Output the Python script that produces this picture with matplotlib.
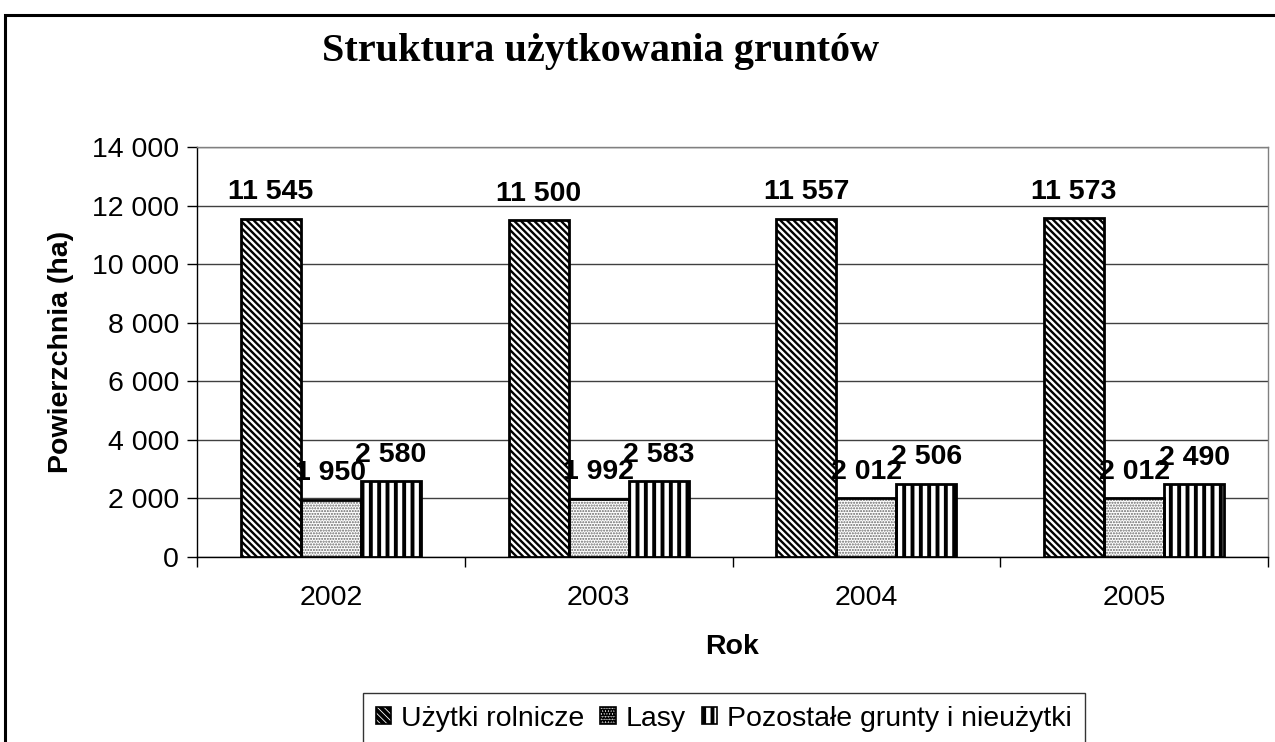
import matplotlib
matplotlib.use("Agg")
import matplotlib.pyplot as plt
import numpy as np
from matplotlib.patches import Rectangle
from matplotlib.ticker import FuncFormatter

years = ["2002", "2003", "2004", "2005"]
series_names = ["Użytki rolnicze", "Lasy", "Pozostałe grunty i nieużytki"]
uzytki = [11545, 11500, 11557, 11573]
lasy = [1950, 1992, 2012, 2012]
pozostale = [2580, 2583, 2506, 2490]
yticks = [0, 2000, 4000, 6000, 8000, 10000, 12000, 14000]

W, H = 1275, 742
fig = plt.figure(figsize=(W / 100, H / 100), dpi=100)
ax = fig.add_axes([197 / W, 1 - 557 / H, (1268 - 197) / W, (557 - 147) / H])

def fmt(v):
    return f"{int(v):,}".replace(",", " ")

FS = 20.5
x = np.arange(len(years))
bw = 0.224
offsets = [-bw, 0, bw]
data = [uzytki, lasy, pozostale]
hatches = ["\\\\\\\\\\", "......", "||"]
hatch_colors = ["black", "#666666", "black"]
hatch_lw = [1.7, 1.0, 2.8]

handles = []
for d, off, h, hc, hlw, name in zip(data, offsets, hatches, hatch_colors, hatch_lw, series_names):
    plt.rcParams["hatch.linewidth"] = hlw
    ax.bar(x + off, d, bw, color="white", edgecolor=hc, hatch=h, linewidth=0, zorder=3)
    ax.bar(x + off, d, bw, facecolor="none", edgecolor="black", linewidth=2.0, zorder=4)
    handle = Rectangle((0, 0), 1, 1, facecolor="white", edgecolor="black", hatch=h, linewidth=1.2)
    handles.append(handle)
    for xi, v in zip(x + off, d):
        ax.annotate(fmt(v), (xi, v), xytext=(0, 14), textcoords="offset points",
                    ha="center", va="baseline", fontsize=FS, fontweight="bold",
                    family="Liberation Sans", zorder=5)

ax.set_ylim(0, 14000)
ax.set_xlim(-0.5, len(years) - 0.5)
ax.set_yticks(yticks)
ax.yaxis.set_major_formatter(FuncFormatter(lambda v, p: fmt(v)))
ax.grid(axis="y", color="#404040", linewidth=1.0, zorder=0)
ax.set_xticks(x)
ax.set_xticklabels(years)
ax.set_xticks(np.arange(len(years) + 1) - 0.5, minor=True)
ax.tick_params(axis="x", which="major", length=0, pad=20, labelsize=FS)
ax.tick_params(axis="x", which="minor", length=7, width=1.0, direction="out")
ax.tick_params(axis="y", length=7, width=1.0, direction="out", pad=6, labelsize=FS)
for lab in ax.get_xticklabels() + ax.get_yticklabels():
    lab.set_family("Liberation Sans")

ax.spines["left"].set_color("black")
ax.spines["bottom"].set_color("black")
ax.spines["top"].set_color("#808080")
ax.spines["right"].set_color("#808080")
for s in ax.spines.values():
    s.set_linewidth(1.0)

ax.set_ylabel("Powierzchnia (ha)", fontsize=FS, fontweight="bold", family="Liberation Sans", labelpad=13)
ax.set_xlabel("Rok", fontsize=FS, fontweight="bold", family="Liberation Sans", labelpad=17)

fig.text(601 / W, 1 - 52 / H, "Struktura użytkowania gruntów", ha="center", va="center",
         fontsize=29, fontweight="bold", family="Liberation Serif")

leg = fig.legend(handles, series_names, loc="upper left", bbox_to_anchor=(363 / W, 1 - 693 / H),
                 ncol=3, frameon=True, fancybox=False, edgecolor="black",
                 prop={"family": "Liberation Sans", "size": 20.5},
                 handlelength=0.55, handleheight=0.55, handletextpad=0.35, columnspacing=0.55,
                 borderpad=0.45, borderaxespad=0)
leg.get_frame().set_linewidth(1.0)

fig.patches.append(Rectangle((5 / W, -0.1), 1.2, 1.1 - 15 / H, transform=fig.transFigure,
                             fill=False, edgecolor="black", linewidth=2.2, zorder=0))

fig.savefig("out.png", dpi=100)
